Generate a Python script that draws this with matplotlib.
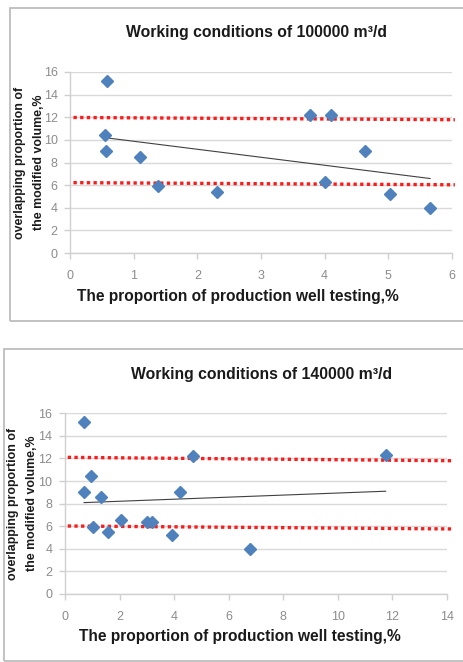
import numpy as np
import matplotlib
matplotlib.use("Agg")
import matplotlib.pyplot as plt
from matplotlib.patches import Rectangle

plt.rcParams['font.family'] = ['Liberation Sans', 'DejaVu Sans']

# --- 100000 m3/d working condition ---
x_100k = [0.58, 0.54, 0.56, 1.09, 1.38, 2.31, 3.77, 4.10, 4.01, 4.64, 5.03, 5.66]
y_100k = [15.2, 10.4, 9.0, 8.5, 5.9, 5.4, 12.2, 12.2, 6.25, 9.0, 5.2, 3.95]
band_x_100k = [0.05, 6.05]
band_hi_100k = [11.98, 11.78]
band_lo_100k = [6.22, 6.03]
xticks_100k = [0, 1, 2, 3, 4, 5, 6]

# --- 140000 m3/d working condition ---
x_140k = [0.71, 0.95, 0.70, 1.31, 1.02, 1.59, 2.07, 3.00, 3.19, 3.91, 4.22, 4.71, 6.79, 11.76]
y_140k = [15.26, 10.45, 9.0, 8.55, 5.9, 5.46, 6.55, 6.35, 6.35, 5.2, 9.06, 12.2, 3.96, 12.3]
band_x_140k = [0.1, 14.2]
band_hi_140k = [12.1, 11.8]
band_lo_140k = [6.02, 5.76]
xticks_140k = [0, 2, 4, 6, 8, 10, 12, 14]

yticks = [0, 2, 4, 6, 8, 10, 12, 14, 16]

titles = ["Working conditions of 100000 m\u00b3/d", "Working conditions of 140000 m\u00b3/d"]
xlabel = "The proportion of production well testing,%"
ylabel = "overlapping proportion of\nthe modified volume,%"

W, H = 463, 662
fig = plt.figure(figsize=(W / 100, H / 100), dpi=100)

def fx(px):
    return px / W

def fy(py):
    return 1 - py / H

# chart frames
fig.add_artist(Rectangle((fx(10), fy(321)), fx(470), fy(8) - fy(321), transform=fig.transFigure,
                         fill=False, edgecolor='#BDBDBD', linewidth=1.3))
fig.add_artist(Rectangle((fx(4), fy(661)), fx(470), fy(349) - fy(661), transform=fig.transFigure,
                         fill=False, edgecolor='#BDBDBD', linewidth=1.3))

panels = [
    dict(rect=[fx(70.3), fy(253), fx(451.7) - fx(70.3), fy(72) - fy(253)],
         x=x_100k, y=y_100k, bx=band_x_100k, bhi=band_hi_100k, blo=band_lo_100k,
         xt=xticks_100k, title=titles[0], title_y=33, title_x=257,
         ylab_x=[20, 39], xlab_y=297, xlab_x=238),
    dict(rect=[fx(65), fy(594), fx(446.7) - fx(65), fy(413.3) - fy(594)],
         x=x_140k, y=y_140k, bx=band_x_140k, bhi=band_hi_140k, blo=band_lo_140k,
         xt=xticks_140k, title=titles[1], title_y=375, title_x=262,
         ylab_x=[13, 32], xlab_y=636, xlab_x=240),
]

for p in panels:
    ax = fig.add_axes(p['rect'])
    ax.set_xlim(p['xt'][0], p['xt'][-1])
    ax.set_ylim(0, 16)
    ax.set_xticks(p['xt'])
    ax.set_yticks(yticks)
    ax.grid(axis='y', color='#D9D9D9', linewidth=1.0)
    ax.set_axisbelow(True)
    for s in ['top', 'right']:
        ax.spines[s].set_visible(False)
    for s in ['left', 'bottom']:
        ax.spines[s].set_color('#D0D0D0')
        ax.spines[s].set_linewidth(1.0)
    ax.tick_params(axis='both', colors='#D0D0D0', labelcolor='#8C8C8C', labelsize=9,
                   length=4, width=1.0)
    ax.tick_params(axis='x', pad=8)
    ax.tick_params(axis='y', pad=5)

    # red reference band
    ax.plot(p['bx'], p['bhi'], color='#FF1A1A', linestyle=(0, (1, 1)), linewidth=2.4,
            clip_on=False, zorder=3)
    ax.plot(p['bx'], p['blo'], color='#FF1A1A', linestyle=(0, (1, 1)), linewidth=2.4,
            clip_on=False, zorder=3)

    # linear trend
    xs = np.array(p['x'])
    ys = np.array(p['y'])
    k, b = np.polyfit(xs, ys, 1)
    xt = np.array([xs.min(), xs.max()])
    ax.plot(xt, k * xt + b, color='#404040', linewidth=0.8, zorder=4)

    ax.plot(xs, ys, linestyle='none', marker='D', markersize=6.5, color='#4F81BD',
            markeredgecolor='#4F81BD', zorder=5, clip_on=False)

    fig.text(fx(p['title_x']), fy(p['title_y']), p['title'], ha='center', va='center',
             fontsize=11.3, fontweight='bold', color='#1A1A1A')
    l1, l2 = ylabel.split('\n')
    ycen = p['rect'][1] + p['rect'][3] / 2
    fig.text(fx(p['ylab_x'][0]), ycen, l1, rotation=90, ha='center', va='center',
             fontsize=8.9, fontweight='bold', color='#1A1A1A')
    fig.text(fx(p['ylab_x'][1]), ycen, l2, rotation=90, ha='center', va='center',
             fontsize=8.9, fontweight='bold', color='#1A1A1A')
    fig.text(fx(p['xlab_x']), fy(p['xlab_y']), xlabel, ha='center', va='center',
             fontsize=11.2, fontweight='bold', color='#1A1A1A')

fig.savefig('out.png', dpi=100)
